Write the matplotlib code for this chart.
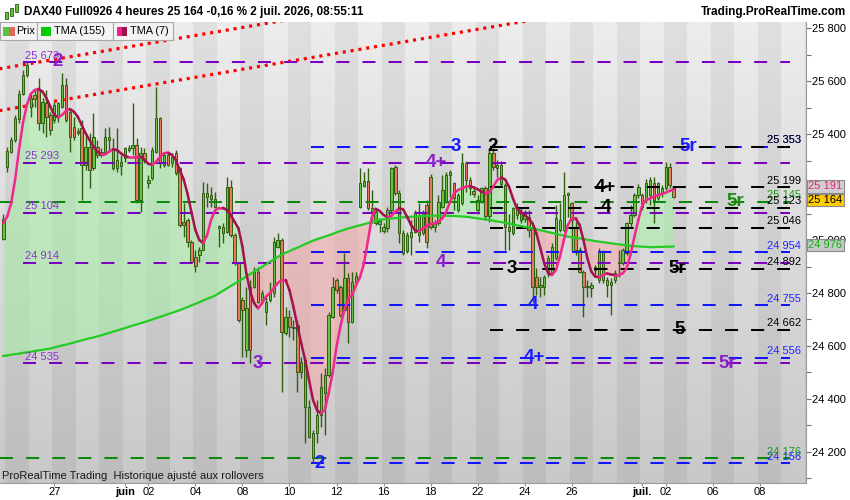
import numpy as np
import matplotlib
matplotlib.use("Agg")
import matplotlib.pyplot as plt
from matplotlib.collections import LineCollection
from matplotlib.patches import Rectangle
import matplotlib.ticker as mticker

plt.rcParams['font.family'] = ['Liberation Sans', 'DejaVu Sans']
plt.rcParams['lines.scale_dashes'] = False

# ---------------- data (4h bars, DAX40 future) ----------------
opens = [25003,25277,25334,25378,25456,25551,25624,25504,25548,25567,
         25441,25517,25473,25454,25466,25504,25586,25485,25428,25413,
         25422,25284,25353,25271,25353,25334,25334,25391,25340,25271,
         25278,25309,25340,25347,25359,25151,25328,25215,25233,25334,
         25460,25284,25322,25290,25328,25271,25069,25076,24994,24937,
         24944,24962,25161,25170,25154,25044,25048,25032,25202,25019,
         24912,24774,24585,24824,24824,24881,24774,24730,24774,24799,
         24975,25000,24648,24711,24673,24679,24541,24547,24371,24176,
         24270,24339,24421,24490,24711,24849,24824,24736,24855,24692,
         24843,25126,25205,25223,25107,25066,25059,25034,25044,25114,
         25277,25177,25025,24957,25013,25032,25095,25025,25132,25240,
         25050,25063,25126,25145,25246,25214,25114,25139,25290,25227,
         25185,25114,25145,25195,25090,25328,25271,25284,25208,25050,
         25025,25120,25107,25080,25088,25050,24862,24824,24824,24874,
         24881,24931,25038,25038,25170,25139,25044,24962,24881,24827,
         24820,24900,24849,24956,24849,24843,24849,24912,24912,24950,
         25063,25095,25170,25170,25150,25170,25214,25160,25177,25195,
         25277,25195]
highs = [25099,25350,25391,25473,25567,25643,25678,25561,25567,25611,
         25536,25567,25485,25523,25523,25630,25611,25498,25466,25422,
         25454,25403,25403,25479,25378,25347,25422,25426,25384,25422,
         25322,25353,25359,25517,25384,25353,25347,25246,25353,25580,
         25466,25328,25328,25328,25340,25277,25139,25082,25000,24962,
         24975,25221,25214,25202,25183,25057,25063,25239,25227,25025,
         24918,24786,24824,24849,24900,24900,24811,24786,24843,25013,
         25025,25006,24748,24736,24698,24698,24560,24560,24396,24282,
         24396,24497,24515,24730,24862,24855,24830,24950,24874,24881,
         24881,25271,25258,25271,25189,25120,25082,25063,25126,25277,
         25284,25189,25038,25032,25076,25114,25139,25114,25151,25250,
         25076,25170,25246,25256,25265,25221,25177,25330,25300,25240,
         25195,25170,25202,25205,25340,25347,25303,25300,25215,25100,
         25126,25140,25120,25115,25114,25060,24893,24862,24868,24944,
         24990,25132,25140,25258,25183,25145,25069,24975,24887,24849,
         24843,24906,24969,24962,24862,24855,24887,24962,24969,25069,
         25132,25177,25210,25177,25230,25239,25239,25220,25208,25296,
         25290,25202]
lows = [25000,25259,25328,25372,25441,25548,25617,25466,25504,25416,
        25403,25391,25397,25441,25447,25498,25447,25334,25378,25397,
        25151,25265,25196,25265,25309,25315,25328,25334,25265,25259,
        25246,25296,25334,25322,25139,25107,25290,25196,25227,25328,
        25271,25277,25278,25277,25246,25051,25013,24975,24912,24881,
        24918,24962,25126,25126,25120,24975,24988,25025,25013,24906,
        24692,24560,24560,24534,24818,24761,24761,24679,24767,24786,
        24969,24427,24641,24635,24622,24427,24478,24232,24251,24160,
        24232,24295,24264,24484,24704,24799,24711,24730,24610,24685,
        24837,25120,25202,25114,25063,25057,25032,25025,25032,25107,
        25170,24988,24944,24950,24944,25025,24994,25019,24969,25040,
        25032,25057,25120,25139,25164,25114,25107,25132,25183,25170,
        25164,25100,25139,25076,25070,25265,25240,25200,24962,24962,
        25019,25080,25063,25070,25013,24761,24792,24786,24792,24862,
        24870,24925,25030,25030,25088,24960,24944,24874,24711,24786,
        24786,24860,24837,24837,24786,24717,24837,24862,24906,24944,
        25051,25088,25160,25114,25140,25132,25063,25150,25164,25189,
        25195,25160]
closes = [25078,25337,25378,25460,25551,25624,25662,25536,25532,25441,
          25523,25466,25416,25510,25517,25586,25454,25391,25391,25406,
          25284,25353,25265,25391,25322,25322,25391,25378,25271,25303,
          25296,25347,25347,25359,25151,25328,25303,25227,25340,25460,
          25290,25322,25284,25315,25252,25057,25057,24994,24918,24902,
          24962,25177,25177,25154,25126,25053,25025,25202,25019,24912,
          24698,24736,24742,24585,24881,24767,24801,24767,24799,24994,
          25000,24654,24711,24673,24668,24503,24503,24371,24257,24270,
          24339,24446,24490,24717,24824,24811,24717,24855,24692,24843,
          24864,25214,25223,25120,25120,25107,25072,25048,25114,25271,
          25177,25025,24950,25020,25032,25101,25019,25101,24994,25050,
          25063,25145,25189,25246,25256,25158,25170,25290,25227,25195,
          25174,25151,25195,25090,25330,25277,25284,25210,25050,25035,
          25120,25095,25076,25105,25038,24824,24824,24830,24862,24931,
          24975,25082,25076,25170,25177,25076,24962,24881,24824,24822,
          24830,24885,24956,24849,24830,24830,24874,24918,24962,25063,
          25095,25170,25202,25126,25215,25227,25151,25214,25195,25277,
          25208,25164]
tma7 = [25063,25089,25139,25227,25340,25441,25510,25552,25567,25571,
        25561,25536,25504,25473,25463,25473,25488,25495,25485,25466,
        25435,25403,25378,25353,25334,25322,25324,25334,25343,25340,
        25328,25318,25313,25313,25313,25315,25303,25288,25284,25296,
        25315,25328,25330,25322,25303,25265,25230,25175,25105,25038,
        25000,24988,25019,25076,25111,25122,25122,25114,25095,25069,
        25044,24975,24874,24805,24761,24742,24761,24786,24799,24818,
        24837,24849,24849,24811,24748,24679,24610,24547,24471,24396,
        24358,24345,24358,24421,24497,24597,24673,24736,24780,24792,
        24830,24860,24910,24995,25085,25118,25110,25095,25086,25091,
        25107,25120,25116,25088,25057,25038,25032,25044,25053,25061,
        25063,25069,25082,25107,25145,25177,25189,25195,25202,25204,
        25199,25192,25183,25177,25180,25202,25227,25236,25229,25202,
        25158,25120,25107,25095,25082,25063,25025,24969,24912,24874,
        24868,24887,24937,25000,25057,25082,25082,25057,25000,24931,
        24881,24862,24859,24868,24874,24870,24868,24868,24874,24893,
        24944,25013,25076,25132,25151,25158,25164,25170,25174,25179,
        25186,25191]
tma155 = [24562,24564,24567,24569,24571,24574,24576,24578,24581,24583,24585,24588,24590,
          24594,24598,24602,24605,24609,24613,24617,24621,24625,24629,24632,24636,24640,
          24645,24649,24654,24658,24663,24667,24672,24677,24681,24686,24690,24695,
          24700,24705,24710,24715,24720,24725,24730,24735,
          24741,24747,24753,24759,24765,24772,24778,24784,24790,
          24799,24808,24817,24826,24835,24844,24853,24862,
          24872,24881,24890,24899,24908,24918,24927,24936,24945,
          24952,24958,24965,24971,24978,24985,24991,24998,
          25003,25008,25013,25018,25023,25029,25034,25039,25044,
          25048,25052,25056,25060,25064,25068,25072,25076,
          25078,25080,25081,25083,25084,25086,25087,25088,25089,25090,25091,
          25091,25092,25092,25092,25092,25092,25091,25091,
          25090,25089,25088,25086,25084,25082,25080,25078,25076,
          25073,25070,25068,25065,25062,25059,25056,25053,25050,25047,25044,
          25041,25037,25034,25030,25027,25024,25020,25017,25013,
          25011,25008,25006,25004,25001,24999,24996,24994,
          24992,24990,24988,24986,24984,24982,24980,24978,
          24977,24976,24975,24974,24973,
          24973,24974,24974,24975,24975,24976]

# horizontal levels
purple_levels = [25673, 25293, 25104, 24914, 24535]
green_levels = [25145, 24176]
blue_levels = [25353, 24954, 24755, 24556, 24156]
black_levels = [25353, 25199, 25123, 25046, 24892, 24662]

# wave labels
wave_text = ['2', '3', '4+', '4', '5r',
             '2', '3', '4', '4+', '5r',
             '2', '3', '4+', '4', '5r', '5',
             '5r']
wave_price = [25673, 24535, 25293, 24914, 24535,
              24156, 25353, 24755, 24556, 25353,
              25353, 24892, 25199, 25123, 24892, 24662,
              25145]
wave_group = ['purple'] * 5 + ['blue'] * 5 + ['black'] * 6 + ['green']

# trend lines (bar index, price)
trend1_bars = [-1, 80]
trend1_prices = [25647, 25851]
trend2_bars = [-1, 140]
trend2_prices = [25489, 25844]

# date axis
date_labels = ['27', 'juin', '02', '04', '08', '10', '12', '16', '18', '22', '24', '26',
               'juil.', '02', '06', '08']
date_bars = [13, 31, 37, 49, 61, 73, 85, 97, 109, 121, 133, 145, 163, 169, 181, 193]
month_labels = ['juin', 'juil.']

# price axis
price_ticks = [24200, 24400, 24600, 24800, 25000, 25200, 25400, 25600, 25800]
hidden_tick_labels = [25200]   # covered by the price boxes in the reference

title = "DAX40 Full0926 4 heures 25 164 -0,16 % 2 juil. 2026, 08:55:11"
last_close = 25164

# ---------------- layout ----------------
W, H = 850, 500
def fx(px):
    return px / W
def fy(py):
    return 1 - py / H

fig = plt.figure(figsize=(8.5, 5), dpi=100, facecolor='white')
ax = fig.add_axes([0, fy(483), fx(806), fy(22) - fy(483)])

X0, X1 = -0.842, 204.77
Y0, Y1 = 24082.2, 25823.8

n = min(len(opens), len(highs), len(lows), len(closes), len(tma7), len(tma155))
o = np.array(opens[:n], float)
h = np.array(highs[:n], float)
l = np.array(lows[:n], float)
c = np.array(closes[:n], float)
t7 = np.array(tma7[:n], float)
t155 = np.array(tma155[:n], float)
x = np.arange(n)

# background gradient + day bands
grad = np.linspace(0.785, 0.925, 256).reshape(-1, 1)
ax.imshow(grad, extent=[X0, X1, Y0, Y1], origin='lower', aspect='auto',
          cmap='gray', vmin=0, vmax=1, zorder=0, interpolation='bilinear')
for d in range(-2, 36):
    if d % 2 == 0:
        s = 1 + 6 * d - 0.5
        ax.axvspan(s, s + 6, color='black', alpha=0.055, lw=0, zorder=0.5)

# fills between TMA7 and TMA155
ax.fill_between(x, t7, t155, where=t7 >= t155, interpolate=True,
                color='#a6f0a6', alpha=0.55, lw=0, zorder=1)
ax.fill_between(x, t7, t155, where=t7 < t155, interpolate=True,
                color='#f7a4a4', alpha=0.5, lw=0, zorder=1)

# trend lines
for tb, tp in ((trend1_bars, trend1_prices), (trend2_bars, trend2_prices)):
    ax.plot(tb, tp, color='#ff0000', lw=2.3, dashes=(2.2, 3.5),
            dash_capstyle='butt', zorder=2)

# candles
up = c >= o
bb = np.minimum(o, c)
bh = np.maximum(np.abs(c - o), 4)
ax.vlines(x, l, h, color='#2f5f10', lw=1.0, zorder=3)
ax.bar(x[up], bh[up], bottom=bb[up], width=0.62, color='#66c444',
       edgecolor='#2f5f10', lw=0.7, zorder=3.1)
ax.bar(x[~up], bh[~up], bottom=bb[~up], width=0.62, color='#e8785e',
       edgecolor='#2f5f10', lw=0.7, zorder=3.1)

# level lines
LEVEL_END = 200.8
level_style = {
    'purple': dict(color='#7a00c2', start=5.0),
    'green': dict(color='#0a8a0a', start=X0),
    'blue': dict(color='#1414ff', start=78.5),
    'black': dict(color='#000000', start=124.2),
}
level_sets = {'purple': purple_levels, 'green': green_levels,
              'blue': blue_levels, 'black': black_levels}
for grp, prices in level_sets.items():
    st = level_style[grp]
    for p in prices:
        ax.plot([st['start'], LEVEL_END], [p, p], color=st['color'], lw=1.45,
                dashes=(9.4, 9.4), dash_capstyle='butt', zorder=4)

def fmt(v):
    return f"{int(round(v)):,}".replace(",", " ")

label_color = {'purple': '#8a34cc', 'green': '#1a9a1a', 'blue': '#2424ff', 'black': '#000000'}
for p in purple_levels:
    ax.annotate(fmt(p), (5.5, p), xytext=(0, 1), textcoords='offset points',
                ha='left', va='bottom', fontsize=8, color=label_color['purple'], zorder=7)
for grp in ('blue', 'green', 'black'):
    for p in level_sets[grp]:
        ax.annotate(fmt(p), (194.8, p), xytext=(0, 1), textcoords='offset points',
                    ha='left', va='bottom', fontsize=8, color=label_color[grp], zorder=7)

# moving averages
ax.plot(x, t155, color='#22cc22', lw=1.6, zorder=5)
pts = np.column_stack([x, t7])
segs = np.stack([pts[:-1], pts[1:]], axis=1)
cols = ['#f0288c' if t7[i + 1] >= t7[i] else '#a3124e' for i in range(n - 1)]
ax.add_collection(LineCollection(segs, colors=cols, linewidths=1.8, zorder=6,
                                 capstyle='round'))

# wave labels
wave_pos = {'purple': [13.9, 65.0, 110.6, 111.7, 184.6],
            'blue': [80.8, 115.5, 135.1, 135.6, 174.7],
            'black': [124.9, 129.8, 153.5, 153.7, 171.9, 172.6],
            'green': [186.7]}
wave_color = {'purple': '#8a1ec8', 'blue': '#1a1aff', 'black': '#000000', 'green': '#1f8a10'}
counters = {k: 0 for k in wave_pos}
for txt, p, g in zip(wave_text, wave_price, wave_group):
    xp = wave_pos[g][counters[g]]
    counters[g] += 1
    ax.text(xp, p, txt, ha='center', va='center', fontsize=13.5, fontweight='bold',
            color=wave_color[g], zorder=8)

ax.set_xlim(X0, X1)
ax.set_ylim(Y0, Y1)

# axes styling
for sp in ('left', 'top'):
    ax.spines[sp].set_visible(False)
for sp in ('right', 'bottom'):
    ax.spines[sp].set_color('#9a9a9a')
    ax.spines[sp].set_linewidth(0.8)

ax.yaxis.tick_right()
ax.set_yticks(price_ticks)
ax.set_yticks(np.arange(24100, 25800, 200), minor=True)
ax.yaxis.set_major_formatter(mticker.FuncFormatter(
    lambda v, p: '' if int(round(v)) in hidden_tick_labels else fmt(v)))
ax.tick_params(axis='y', which='both', length=3.6, width=0.8, color='#707070',
               labelsize=8, pad=0.4, right=True, left=False)

ax.set_xticks(date_bars)
ax.set_xticklabels(date_labels)
for lab in ax.get_xticklabels():
    if lab.get_text() in month_labels:
        lab.set_fontweight('bold')
ax.tick_params(axis='x', length=2, width=0.8, color='#909090', labelsize=8, pad=1)

# price boxes on the right axis
def price_box(val, tcol, fc, dy):
    ax.annotate(fmt(val), xy=(1.0, val), xycoords=('axes fraction', 'data'),
                xytext=(1.8, dy), textcoords='offset points', ha='left', va='center',
                fontsize=8, color=tcol, annotation_clip=False, zorder=10,
                bbox=dict(boxstyle='square,pad=0.12', fc=fc, ec='#8a8a8a', lw=0.8))

price_box(t7[-1], '#e8207c', '#cfcfcf', 2.2)
price_box(last_close, '#000000', '#ffcc00', -2.4)
price_box(t155[-1], '#10b010', '#c8c8c8', 1.0)

# bottom info text
fig.text(fx(2), fy(476), "ProRealTime Trading  Historique ajusté aux rollovers",
         fontsize=8, va='center', ha='left', color='#1a1a1a', zorder=10)

# legend boxes
def frect(x0, y0, x1, y1, **kw):
    fig.patches.append(Rectangle((fx(x0), fy(y1)), fx(x1) - fx(x0), fy(y0) - fy(y1),
                                 transform=fig.transFigure, **kw))

for (a, b) in ((0, 37), (37, 113), (113, 173)):
    frect(a, 22, b, 40, fc='#f3f3f3', ec='#a8a8a8', lw=0.8, zorder=5)
frect(3, 27, 9, 36, fc='#5cc040', ec='none', zorder=6)
frect(9, 27, 15, 36, fc='#e06a5a', ec='none', zorder=6)
frect(41, 27, 51, 36, fc='#00cc00', ec='none', zorder=6)
frect(117, 27, 122, 36, fc='#f0208a', ec='none', zorder=6)
frect(122, 27, 127, 36, fc='#a0104a', ec='none', zorder=6)
fig.text(fx(16), fy(31.5), "Prix", fontsize=7.8, va='center', ha='left', zorder=7)
fig.text(fx(54), fy(31.5), "TMA (155)", fontsize=7.8, va='center', ha='left', zorder=7)
fig.text(fx(130), fy(31.5), "TMA (7)", fontsize=7.8, va='center', ha='left', zorder=7)

# title bar
for (a, b, t, btm) in ((5, 8, 12, 19), (10, 13, 8, 16), (15, 18, 4, 12)):
    frect(a, t, b, btm, fc='#5cc040', ec='#2f5f10', lw=0.6, zorder=6)
fig.text(fx(24), fy(11.5), title, fontsize=8.5, fontweight='bold', va='center',
         ha='left', zorder=7)
fig.text(fx(846), fy(11.5), "Trading.ProRealTime.com", fontsize=8.5,
         fontweight='bold', va='center', ha='right', zorder=7)

fig.savefig("out.png", dpi=100, facecolor='white')
